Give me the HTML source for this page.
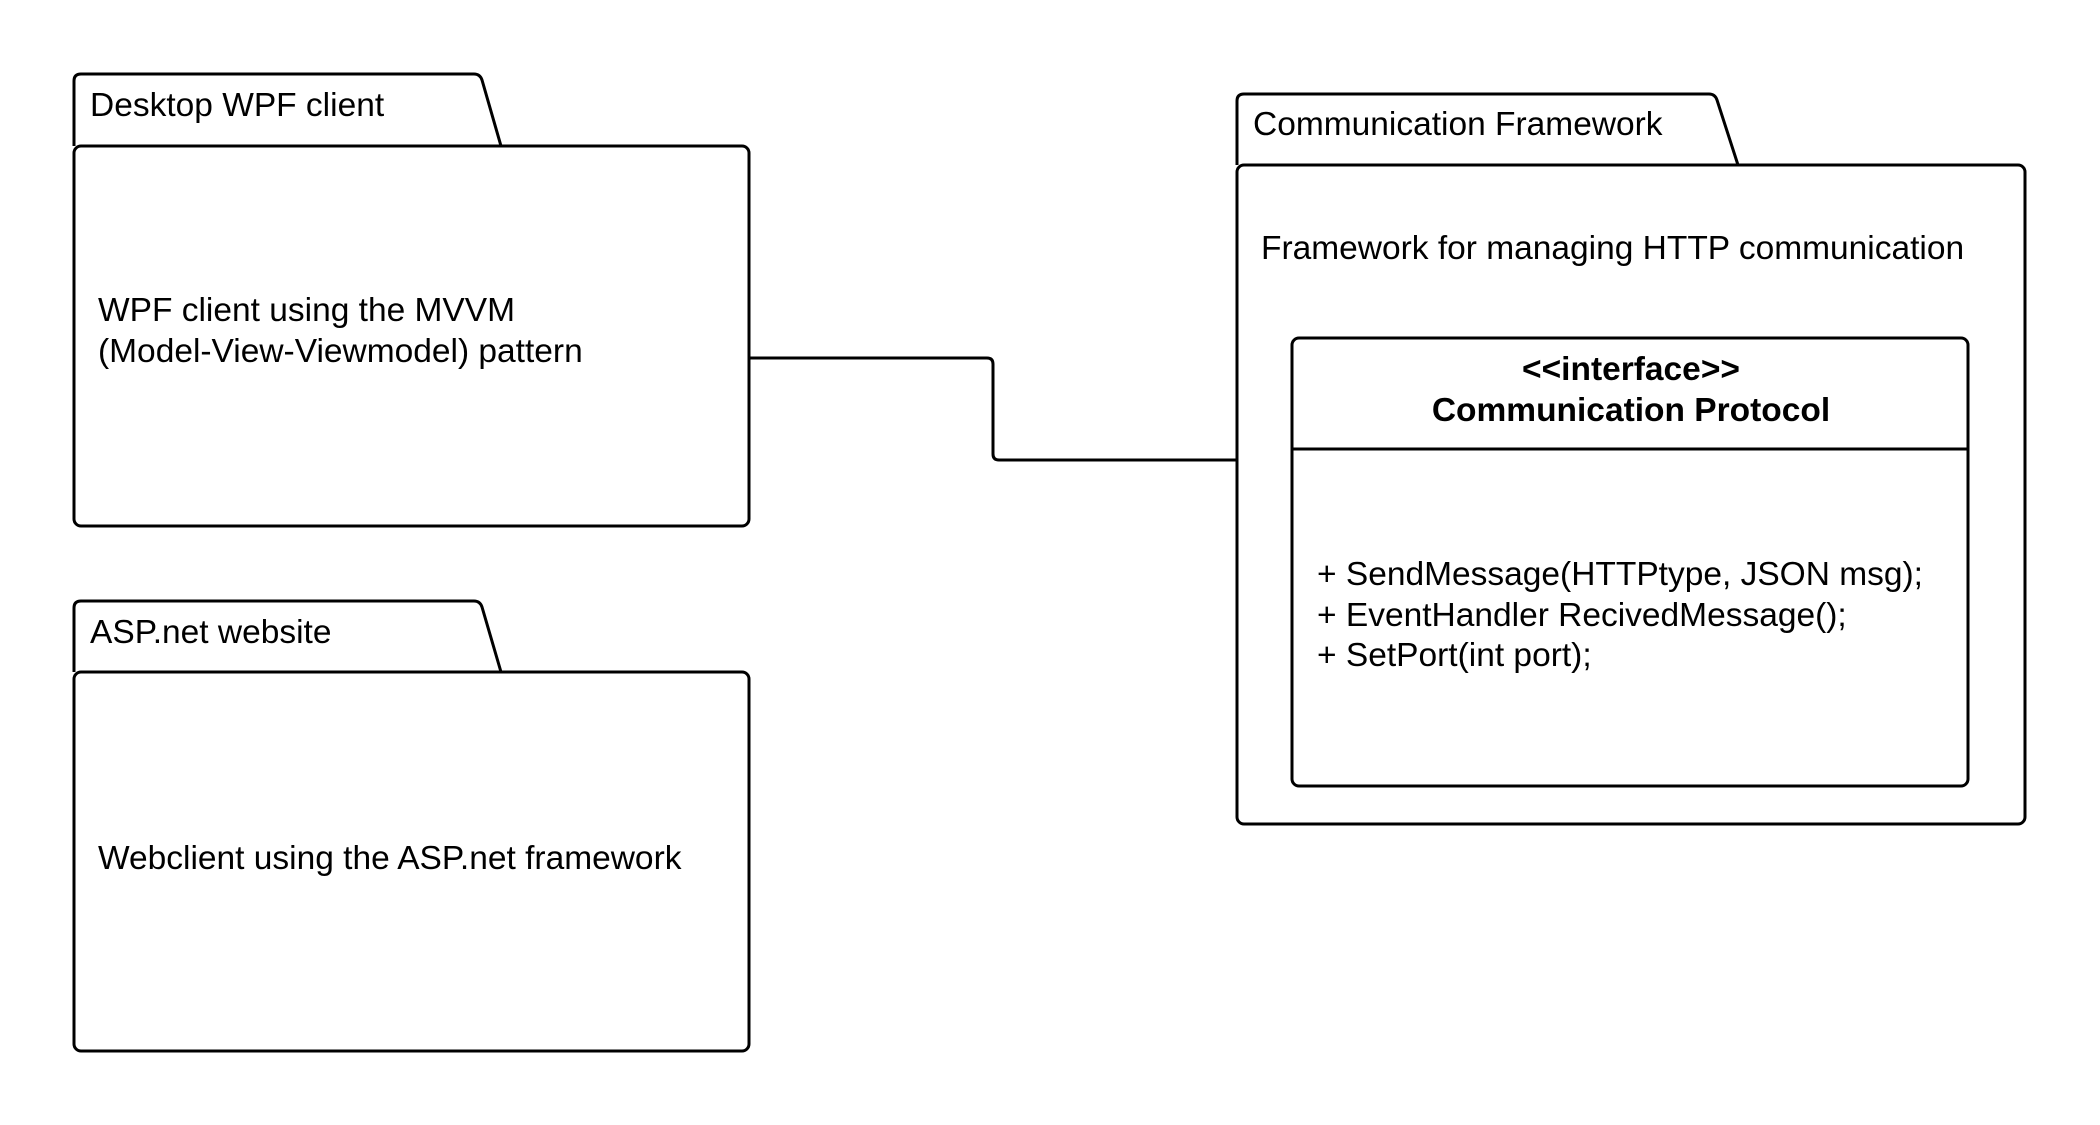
<!DOCTYPE html>
<html><head><style>html,body{margin:0;padding:0;background:#fff}</style></head><body>
<svg width="2100" height="1125" xmlns="http://www.w3.org/2000/svg" style="display:block;font-family:'Liberation Sans',sans-serif;font-size:33.5px">
<g fill="none" stroke="#000" stroke-width="3" stroke-linejoin="round">
<path d="M74,146 V81 Q74,74 81,74 H474 Q480,74 482,80 L501,146"/>
<rect x="74" y="146" width="675" height="380" rx="7"/>
<path d="M74,672 V608 Q74,601 81,601 H474 Q480,601 482,607 L501,672"/>
<rect x="74" y="672" width="675" height="379" rx="7"/>
<path d="M1237,165 V101 Q1237,94 1244,94 H1709 Q1715,94 1717,100 L1738,165"/>
<rect x="1237" y="165" width="788" height="659" rx="7"/>
<rect x="1292" y="338" width="676" height="448" rx="7"/>
<line x1="1292" y1="449" x2="1968" y2="449"/>
<path d="M749,358 H987 Q993,358 993,364 V454 Q993,460 999,460 H1237"/>
</g>
<g fill="#000">
<text x="90" y="116">Desktop WPF client</text>
<text x="98" y="321">WPF client using the MVVM</text>
<text x="98" y="362">(Model-View-Viewmodel) pattern</text>
<text x="90" y="643">ASP.net website</text>
<text x="98" y="869">Webclient using the ASP.net framework</text>
<text x="1253" y="135">Communication Framework</text>
<text x="1261" y="259">Framework for managing HTTP communication</text>
<text x="1631" y="380" text-anchor="middle" font-weight="bold">&lt;&lt;interface&gt;&gt;</text>
<text x="1631" y="421" text-anchor="middle" font-weight="bold">Communication Protocol</text>
<text x="1317" y="585">+ SendMessage(HTTPtype, JSON msg);</text>
<text x="1317" y="626">+ EventHandler RecivedMessage();</text>
<text x="1317" y="666">+ SetPort(int port);</text>
</g>
</svg>
</body></html>
